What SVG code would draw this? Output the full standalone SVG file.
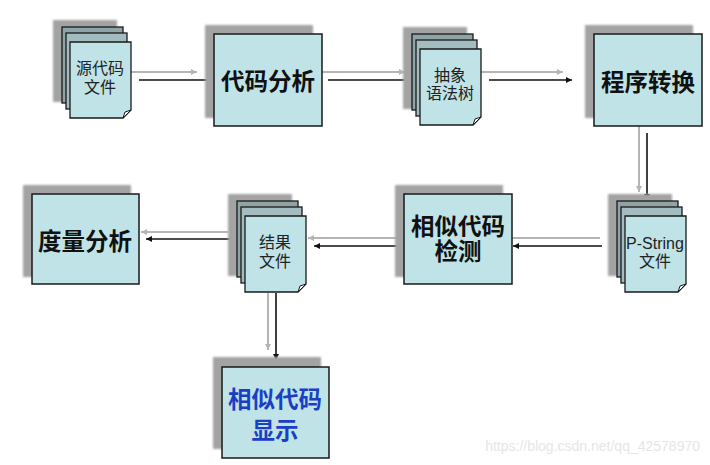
<svg xmlns="http://www.w3.org/2000/svg" width="710" height="465" viewBox="0 0 710 465">
<style>
.shadow{fill:#a3a3a3}
.box{fill:#bfe3e6;stroke:#1a1a1a;stroke-width:1.5}
.pg-back{fill:#8ea4a6;stroke:#1a1a1a;stroke-width:1.3}
.pg-mid{fill:#a3bcbf;stroke:#1a1a1a;stroke-width:1.3}
.pg-front{fill:#bfe3e6;stroke:#1a1a1a;stroke-width:1.3}
.fold{fill:#ffffff;stroke:#1a1a1a;stroke-width:1}
.big{font-family:"Liberation Sans","Noto Sans CJK SC",sans-serif;font-weight:bold;font-size:23.5px;fill:#111;text-anchor:middle}
.small{font-family:"Liberation Sans","Noto Sans CJK SC",sans-serif;font-size:16px;fill:#222;text-anchor:middle}
.g{stroke:#b5b5b5;stroke-width:2;fill:none}
.k{stroke:#111;stroke-width:1.6;fill:none}
</style>
<defs>
<filter id="soft" x="-10%" y="-10%" width="120%" height="120%"><feGaussianBlur stdDeviation="1.2"/></filter>
<marker id="ak" viewBox="0 0 10 10" refX="10" refY="5" markerWidth="6" markerHeight="6" orient="auto" markerUnits="userSpaceOnUse"><path d="M0,0 L10,5 L0,10 Z" fill="#111"/></marker>
<marker id="ag" viewBox="0 0 10 10" refX="10" refY="5" markerWidth="6" markerHeight="6" orient="auto" markerUnits="userSpaceOnUse"><path d="M0,0 L10,5 L0,10 Z" fill="#b5b5b5"/></marker>
<g id="stack">
<rect class="shadow" x="-17" y="-22" width="64" height="82" filter="url(#soft)"/>
<rect class="pg-back" x="-8" y="-15" width="61" height="76"/>
<rect class="pg-mid" x="-4" y="-9" width="61" height="76"/>
<path class="pg-front" d="M0,0 H61 V68 L53,76 H0 Z"/>
<path class="fold" d="M61,68 L53,76 L55,70 Z"/>
</g>
</defs>

<g id="connectors">
<line class="g" x1="131" y1="72" x2="197" y2="72" marker-end="url(#ag)"/>
<line class="k" x1="139" y1="80" x2="213" y2="80" marker-end="url(#ak)"/>
<line class="g" x1="322" y1="72" x2="405" y2="72" marker-end="url(#ag)"/>
<line class="k" x1="328" y1="80" x2="414" y2="80" marker-end="url(#ak)"/>
<line class="g" x1="481" y1="72" x2="563" y2="72" marker-end="url(#ag)"/>
<line class="k" x1="489" y1="80" x2="572" y2="80" marker-end="url(#ak)"/>
<line class="g" x1="639" y1="126" x2="639" y2="192" marker-end="url(#ag)"/>
<line class="k" x1="647" y1="133" x2="647" y2="200" marker-end="url(#ak)"/>
<line class="g" x1="600" y1="238" x2="512" y2="238"/>
<line class="k" x1="602" y1="246" x2="513" y2="246" marker-end="url(#ak)"/>
<line class="g" x1="404" y1="238" x2="308" y2="238" marker-end="url(#ag)"/>
<line class="k" x1="404" y1="246" x2="314" y2="246" marker-end="url(#ak)"/>
<line class="g" x1="228" y1="232" x2="141" y2="232" marker-end="url(#ag)"/>
<line class="k" x1="237" y1="239" x2="146" y2="239" marker-end="url(#ak)"/>
<line class="g" x1="268" y1="293" x2="268" y2="350" marker-end="url(#ag)"/>
<line class="k" x1="276" y1="293" x2="276" y2="360" marker-end="url(#ak)"/>
</g>

<g id="n-src">
<use href="#stack" x="70" y="42"/>
<text class="small" x="100" y="74">源代码</text>
<text class="small" x="100" y="93">文件</text>
</g>

<g id="n-analysis">
<rect class="shadow" x="205" y="25" width="108" height="93" filter="url(#soft)"/>
<rect class="box" x="214" y="34" width="108" height="92"/>
<text class="big" x="268" y="90">代码分析</text>
</g>

<g id="n-ast">
<use href="#stack" x="420" y="49"/>
<text class="small" x="450" y="81">抽象</text>
<text class="small" x="450" y="99">语法树</text>
</g>

<g id="n-transform">
<rect class="shadow" x="585" y="25" width="108" height="93" filter="url(#soft)"/>
<rect class="box" x="594" y="34" width="108" height="92"/>
<text class="big" x="648" y="91">程序转换</text>
</g>

<g id="n-pstring">
<use href="#stack" x="625" y="216"/>
<text class="small" x="655" y="249">P-String</text>
<text class="small" x="655" y="267">文件</text>
</g>

<g id="n-detect">
<rect class="shadow" x="395" y="185" width="108" height="92" filter="url(#soft)"/>
<rect class="box" x="404" y="194" width="108" height="90"/>
<text class="big" x="458" y="235">相似代码</text>
<text class="big" x="458" y="260">检测</text>
</g>

<g id="n-result">
<use href="#stack" x="245" y="216"/>
<text class="small" x="275" y="248">结果</text>
<text class="small" x="275" y="267">文件</text>
</g>

<g id="n-metric">
<rect class="shadow" x="23" y="185" width="108" height="92" filter="url(#soft)"/>
<rect class="box" x="32" y="194" width="107" height="90"/>
<text class="big" x="85" y="250">度量分析</text>
</g>

<g id="n-display">
<rect class="shadow" x="213" y="357" width="108" height="92" filter="url(#soft)"/>
<rect class="box" x="222" y="367" width="107" height="91"/>
<text class="big" x="275" y="408" style="fill:#1b3fc4">相似代码</text>
<text class="big" x="275" y="439" style="fill:#1b3fc4">显示</text>
</g>

<text x="700" y="451" style="font-family:'Liberation Sans',sans-serif;font-size:14px;fill:#e6e6e6;text-anchor:end">https://blog.csdn.net/qq_42578970</text>
</svg>
